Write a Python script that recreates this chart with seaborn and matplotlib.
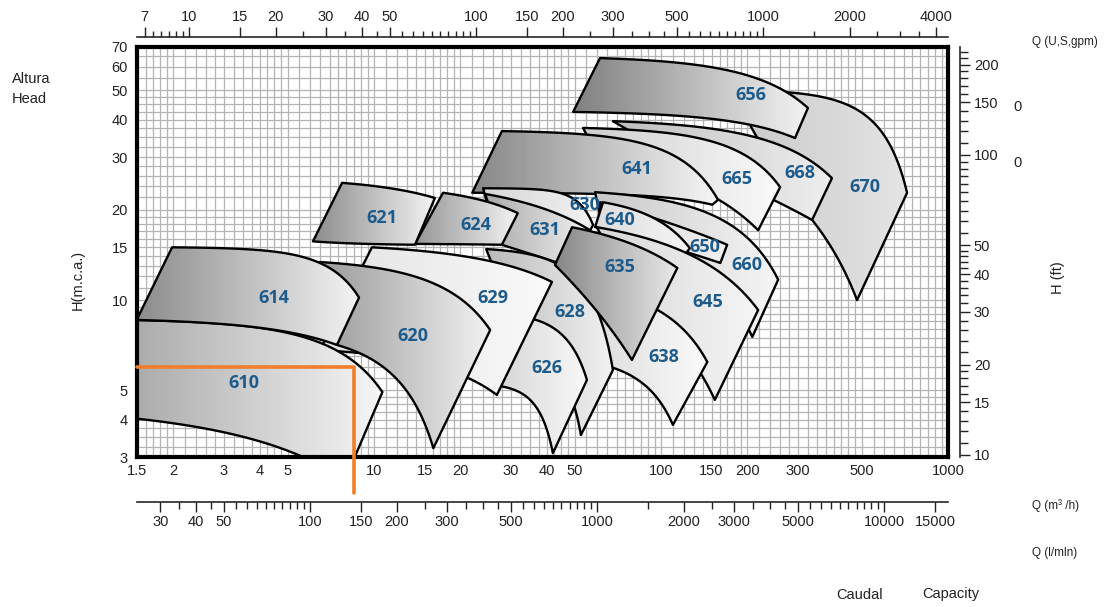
import numpy as np
import matplotlib
matplotlib.use("Agg")
import matplotlib.pyplot as plt
import matplotlib.ticker as mticker
from matplotlib.patches import Polygon
from matplotlib.colors import LinearSegmentedColormap
import seaborn as sns

# pump families, in drawing order (back to front)
tile_names = ['670', '668', '656', '665', '641', '660', '650', '640', '630', '631', '645',
              '624', '621', '638', '628', '635', '626', '629', '620', '610', '614']

# upper curve of each tile: left corner, middle point, right corner (Q m3/h, H m)
top_q = [[174, 431, 720], [68, 199, 394], [61.3, 148, 325], [53.5, 129, 260],
         [27.9, 76.1, 158], [58.9, 199, 256], [61.3, 99.2, 170], [62.8, 86.6, 126],
         [24, 48.2, 58], [24.4, 40.1, 56.6], [59.8, 116, 218], [17.4, 23.4, 31.7],
         [7.74, 11.4, 16.3], [61.3, 123, 145], [24.6, 52.2, 68], [49, 72, 114],
         [32.3, 44.5, 55.2], [9.84, 21.6, 41.7], [6.48, 12.6, 25.4], [1.41, 3.79, 10.7],
         [1.98, 6.48, 8.87]]
top_h = [[50.2, 45.4, 22.8], [39.5, 35.5, 25.5], [64.1, 59.9, 43.7], [37.5, 35, 23.8],
         [36.6, 34.2, 21.6], [22.9, 16.2, 11.7], [21.2, 18.5, 15.3], [21.2, 19.5, 14.9],
         [23.6, 22.1, 17.8], [22.6, 20, 17.1], [17.5, 14.7, 9.27], [22.8, 21.6, 19.5],
         [24.6, 23.6, 21.9], [10.8, 7.77, 6.22], [14.8, 11.5, 5.85], [17.5, 15.9, 12.8],
         [8.85, 7.77, 5.42], [15, 13.9, 11.5], [13.4, 12.3, 7.95], [8.59, 8.14, 4.94],
         [15, 13.3, 10.2]]

# lower curve of each tile
bot_q = [[281, 397, 482], [116, 246, 336], [49.4, 129, 293], [61.3, 137, 218],
         [22, 58.9, 151], [62.8, 126, 208], [61.3, 116, 161], [58.9, 84.5, 116],
         [25.4, 41, 54.3], [27.9, 36.4, 46.3], [84.5, 133, 154], [13.9, 19.6, 27.9],
         [6.13, 9.45, 13.9], [56.6, 89.4, 110], [35, 49, 52.6], [42.7, 56.6, 79.2],
         [27.5, 35, 42], [6.48, 21.3, 26.8], [7.43, 11.1, 16.1], [1.41, 5.66, 7.92],
         [1.49, 3.79, 7.43]]
bot_h = [[22.4, 14.7, 10], [29.3, 21.6, 18.5], [42.4, 40.8, 34.7], [29.3, 23.3, 17.1],
         [22.8, 22.6, 20.8], [17.4, 13.4, 7.54], [17.4, 14.7, 13.3], [17.5, 15.9, 13.4],
         [19.2, 17.1, 15.9], [15.3, 14.1, 13.1], [9.27, 5.99, 4.65], [15.4, 15.3, 15.3],
         [15.7, 15.4, 15.3], [6.22, 5.13, 3.84], [6.32, 4.65, 3.55], [13.1, 9.78, 6.32],
         [5.17, 4.65, 3.09], [6.82, 5.5, 4.83], [7.09, 5.85, 3.21], [4.05, 3, 2.51],
         [8.59, 8.14, 7.09]]

label_q = [514, 305, 206, 184, 82.5, 199, 142, 72, 54.3, 39.4, 145, 22.7, 10.7,
           102, 48.2, 72, 40.1, 26, 13.7, 3.52, 4.48]
label_h = [23.8, 26.5, 48.3, 25.3, 27.4, 13.1, 15, 18.5, 20.8, 17.1, 9.86, 17.8, 18.8,
           6.46, 9.13, 12.9, 5.94, 10.2, 7.59, 5.29, 10.2]

# grey level at the left and right end of each tile's shading
shade_left = [200, 190, 128, 205, 135, 200, 215, 220, 215, 170, 215, 150, 140,
              220, 185, 135, 215, 225, 155, 170, 140]
shade_right = [228, 238, 242, 250, 245, 245, 240, 245, 240, 240, 245, 242, 242,
               250, 242, 232, 248, 250, 240, 245, 242]

q_ticks = [1.5, 2, 3, 4, 5, 10, 15, 20, 30, 40, 50, 100, 150, 200, 300, 500, 1000]
h_ticks = [3, 4, 5, 10, 15, 20, 30, 40, 50, 60, 70]
gpm_ticks = [7, 10, 15, 20, 30, 40, 50, 100, 150, 200, 300, 500, 1000, 2000, 4000]
lmin_ticks = [30, 40, 50, 100, 150, 200, 300, 500, 1000, 2000, 3000, 5000, 10000, 15000]
ft_ticks = [10, 15, 20, 30, 40, 50, 100, 150, 200]

# selection example: 8.5 m3/h at 6 m
sel_q = [1.5, 8.5, 8.5]
sel_h = [6.0, 6.0, 2.28]

GPM = 4.4029
LMIN = 16.667
FT = 3.2808


def boxcox(q, n):
    q = np.asarray(q, dtype=float)
    if abs(n) < 1e-6:
        return np.log(q)
    return (q ** n - 1) / n


def fit_curve(qs, hs):
    # H = a + b * boxcox(Q, n) through the three points
    (q1, q2, q3), (h1, h2, h3) = qs, hs
    n = 1.0
    if abs(h2 - h3) > 1e-9 and (h1 - h2) / (h2 - h3) > 0:
        target = (h1 - h2) / (h2 - h3)

        def ratio(m):
            d = boxcox(q3, m) - boxcox(q2, m)
            return (boxcox(q2, m) - boxcox(q1, m)) / d if d != 0 else np.inf

        lo, hi = -8.0, 12.0
        if target >= ratio(lo):
            n = lo
        elif target <= ratio(hi):
            n = hi
        else:
            for _ in range(60):
                mid = 0.5 * (lo + hi)
                if ratio(mid) > target:
                    lo = mid
                else:
                    hi = mid
            n = 0.5 * (lo + hi)
    b = (h3 - h1) / (boxcox(q3, n) - boxcox(q1, n))
    a = h1 - b * boxcox(q1, n)
    return lambda q: a + b * boxcox(q, n)


def mini_ticks(lo, hi, steps):
    out = []
    for k in range(-1, 6):
        for s in steps:
            v = s * 10 ** k
            if lo <= v <= hi:
                out.append(v)
    return sorted(set(out))


sns.set_theme(style="white")
plt.rcParams['font.family'] = ['Liberation Sans', 'DejaVu Sans']

fig = plt.figure(figsize=(11.07, 6.07), dpi=100)
ax = fig.add_axes([0.1242, 0.2471, 0.7322, 0.6761])
ax.set_xscale('log')
ax.set_yscale('log')
ax.set_xlim(1.5, 1000)
ax.set_ylim(3, 70)
ax.set_facecolor('white')

# dense log grid like printed graph paper
subs = np.r_[np.arange(1.0, 2.0, 0.1), np.arange(2.0, 3.0, 0.2),
             np.arange(3.0, 5.0, 0.25), np.arange(5.0, 10.0, 0.5)]
ax.set_xticks(mini_ticks(1.51, 999, subs), minor=True)
ax.set_yticks(mini_ticks(3.01, 69.9, subs), minor=True)
ax.set_xticks(q_ticks, labels=[str(v) for v in q_ticks])
ax.set_yticks(h_ticks, labels=[str(v) for v in h_ticks])
ax.xaxis.set_minor_formatter(mticker.NullFormatter())
ax.yaxis.set_minor_formatter(mticker.NullFormatter())
ax.tick_params(which='both', length=0, labelsize=10.5, colors='#222222')
ax.tick_params(axis='x', pad=5)
ax.tick_params(axis='y', pad=7)
ax.grid(which='both', color='#b4b4b4', lw=0.9)
ax.set_axisbelow(True)
for s in ax.spines.values():
    s.set_linewidth(3)
    s.set_color('black')
    s.set_zorder(4)

for i, name in enumerate(tile_names):
    z = 1.0 + i * 0.06
    f_top = fit_curve(top_q[i], top_h[i])
    f_bot = fit_curve(bot_q[i], bot_h[i])
    qt = np.geomspace(top_q[i][0], top_q[i][2], 80)
    qb = np.geomspace(bot_q[i][0], bot_q[i][2], 80)[::-1]
    verts = np.r_[np.c_[qt, f_top(qt)], np.c_[qb, f_bot(qb)]]
    poly = Polygon(verts, closed=True, fill=False, ec='black', lw=1.7,
                   joinstyle='round', zorder=z + 0.03, transform=ax.transData)
    ax.add_patch(poly)
    cmap = LinearSegmentedColormap.from_list(
        'g' + name, [(shade_left[i] / 255,) * 3, (shade_right[i] / 255,) * 3])
    qe = np.geomspace(verts[:, 0].min(), verts[:, 0].max(), 60)
    he = np.array([verts[:, 1].min() * 0.98, verts[:, 1].max() * 1.02])
    mesh = ax.pcolormesh(qe, he, np.linspace(0, 1, 59)[None, :], cmap=cmap,
                         shading='flat', zorder=z)
    mesh.set_clip_path(poly)
    ax.text(label_q[i], label_h[i], name, ha='center', va='center', color='#1c5b8c',
            fontsize=13, fontweight='bold', family=['Open Sans', 'DejaVu Sans'],
            zorder=5)

sns.lineplot(x=sel_q, y=sel_h, sort=False, estimator=None, color='#ef7f2a',
             lw=2.6, ax=ax, clip_on=False, zorder=6)
ax.set_xlabel('')
ax.set_ylabel('')

top_ax = ax.secondary_xaxis(1.0244, functions=(lambda q: q * GPM, lambda g: g / GPM))
top_ax.set_xticks(gpm_ticks, labels=[str(v) for v in gpm_ticks])
top_ax.set_xticks(mini_ticks(6.7, 4400, np.arange(1, 10, 0.5)), minor=True)
top_ax.xaxis.set_minor_formatter(mticker.NullFormatter())
top_ax.tick_params(which='major', length=7, width=1, labelsize=10.5, pad=2, colors='#222222')
top_ax.tick_params(which='minor', length=4, width=1, colors='#222222')
top_ax.spines['top'].set_linewidth(1.2)

bot_ax = ax.secondary_xaxis(-0.1098, functions=(lambda q: q * LMIN, lambda l: l / LMIN))
bot_ax.set_xticks(lmin_ticks, labels=[str(v) for v in lmin_ticks])
bot_ax.set_xticks(mini_ticks(25, 16600, np.arange(1, 10, 0.5)), minor=True)
bot_ax.xaxis.set_minor_formatter(mticker.NullFormatter())
bot_ax.tick_params(which='major', length=7, width=1, labelsize=10.5, pad=2, colors='#222222')
bot_ax.tick_params(which='minor', length=5, width=1, colors='#222222')
bot_ax.spines['bottom'].set_linewidth(1.2)

right_ax = ax.secondary_yaxis(1.0148, functions=(lambda h: h * FT, lambda f: f / FT))
right_ax.set_yticks(ft_ticks, labels=[str(v) for v in ft_ticks])
right_ax.set_yticks(list(range(11, 20)) + list(range(22, 50, 2)) +
                    list(range(55, 100, 5)) + list(range(110, 230, 10)), minor=True)
right_ax.yaxis.set_minor_formatter(mticker.NullFormatter())
right_ax.tick_params(which='major', length=7, width=1, labelsize=10.5, pad=3, colors='#222222')
right_ax.tick_params(which='minor', length=6, width=1, colors='#222222')
right_ax.spines['right'].set_linewidth(1.2)

W, H = 1107, 607


def ftext(x, y, s, **kw):
    fig.text(x / W, 1 - y / H, s, color='#222222', **kw)


ftext(12, 79, 'Altura', fontsize=10.5, va='center')
ftext(12, 99, 'Head', fontsize=10.5, va='center')
ftext(78, 280, 'H(m.c.a.)', fontsize=10.5, rotation=90, ha='center', va='center')
ftext(1058, 278, 'H (ft)', fontsize=10.5, rotation=90, ha='center', va='center')
ftext(1018, 107, '0', fontsize=10.5, ha='center', va='center')
ftext(1018, 163, '0', fontsize=10.5, ha='center', va='center')
ftext(1032, 42, 'Q (U,S,gpm)', fontsize=8.5, va='center')
ftext(1032, 506, 'Q (m³ /h)', fontsize=8.5, va='center')
ftext(1032, 553, 'Q (l/mln)', fontsize=8.5, va='center')
ftext(836, 595, 'Caudal', fontsize=10.5, va='center')
ftext(922, 594, 'Capacity', fontsize=10.5, va='center')

fig.savefig('out.png', dpi=100)
plt.close(fig)
